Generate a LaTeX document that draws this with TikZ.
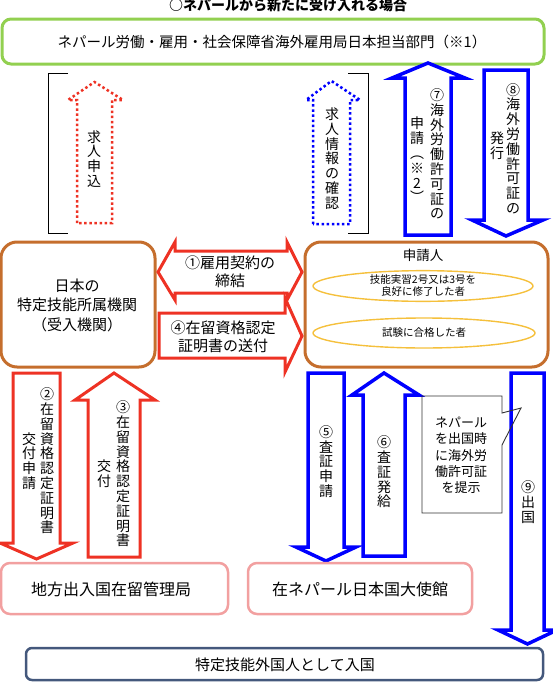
\documentclass[tikz,border=0pt]{standalone}
\usepackage{fontspec}
\usepackage{graphicx}
\setmainfont{Noto Sans CJK JP}
\definecolor{cgreen}{RGB}{146,208,80}
\definecolor{corange}{RGB}{197,110,45}
\definecolor{cred}{RGB}{238,50,36}
\definecolor{cblue}{RGB}{0,0,255}
\definecolor{cpink}{RGB}{242,160,160}
\definecolor{cgold}{RGB}{245,192,60}
\definecolor{cnavy}{RGB}{68,88,124}
\tikzset{
  vcol/.style={font=\fontsize{14}{14.8}\selectfont, align=center, inner sep=0pt},
  htxt/.style={font=\fontsize{15}{18}\selectfont, align=center, inner sep=0pt},
  obox/.style={draw=corange, line width=3pt, rounded corners=16pt},
  pbox/.style={draw=cpink, line width=2.5pt, rounded corners=9pt},
  redarrow/.style={draw=cred, line width=3pt, fill=white, line join=miter},
  bluearrow/.style={draw=cblue, line width=3.5pt, fill=white, line join=miter},
  reddot/.style={draw=cred, line width=2.5pt, dash pattern=on 2.5pt off 2.6pt},
  bluedot/.style={draw=cblue, line width=2.5pt, dash pattern=on 2.5pt off 2.6pt},
  bracket/.style={draw=black, line width=0.9pt},
  ell/.style={ellipse, draw=cgold, line width=1.4pt, align=center, inner sep=0pt, font=\fontsize{10.5}{12}\selectfont}
}
\usetikzlibrary{shapes.geometric}
\begin{document}
\begin{tikzpicture}[x=1pt,y=-1pt]
\useasboundingbox (0,0) rectangle (552,688);
% title
\node[font=\fontsize{14}{16}\bfseries\selectfont, inner sep=0pt] (title) at (288,5) {○ネパールから新たに受け入れる場合};
% top green box
\draw[draw=cgreen, line width=3pt, rounded corners=9pt] (2,19) rectangle (544,64);
\node[font=\fontsize{14.5}{17}\selectfont, inner sep=0pt] (nepal) at (272,42) {ネパール労働・雇用・社会保障省海外雇用局日本担当部門（※1）};
% brackets
\draw[bracket] (68,73) -- (48,73) -- (48,233) -- (68,233);
\draw[bracket] (348,73) -- (368,73) -- (368,233) -- (348,233);
% dotted arrows
\draw[reddot] (77,223) -- (77,100) -- (68,100) -- (94.5,82) -- (123,100) -- (112,100) -- (112,223) -- cycle;
\node[vcol] (kyujin) at (94,159) {求\\人\\申\\込};
\draw[bluedot] (313,224) -- (313,100) -- (306,100) -- (331.5,81) -- (360,100) -- (350,100) -- (350,224) -- cycle;
\node[vcol] (kakunin) at (332,158.5) {求\\人\\情\\報\\の\\確\\認};
% 7 up
\path[bluearrow] (405,235) -- (405,78) -- (392,78) -- (428,63) -- (465,78) -- (451,78) -- (451,235) -- cycle;
\node[vcol] (s7a) at (437,154) {⑦\\海\\外\\労\\働\\許\\可\\証\\の};
\node[vcol] (s7b) at (417,160) {申\\請\\︵\\※\\2\\︶};
% 8 down
\path[bluearrow] (484,70) -- (484,220) -- (472,220) -- (506,236) -- (543,220) -- (528,220) -- (528,70) -- cycle;
\node[vcol] (s8a) at (513,148.5) {⑧\\海\\外\\労\\働\\許\\可\\証\\の};
\node[vcol] (s8b) at (497,146) {発\\行};
% left orange box
\draw[obox] (1,242) rectangle (155,367);
\node[font=\fontsize{15}{19.5}\selectfont, align=center, inner sep=0pt] (kikan) at (77,305) {日本の\\特定技能所属機関\\（受入機関）};
% right orange box
\draw[obox] (305,242) rectangle (548,367);
\node[font=\fontsize{13.5}{16}\selectfont, inner sep=0pt] (shinsei) at (423,255) {申請人};
\node[ell, minimum width=220pt, minimum height=28pt] (e1) at (423,286) {技能実習2号又は3号を\\良好に修了した者};
\node[ell, minimum width=222pt, minimum height=30pt] (e2) at (424,333) {試験に合格した者};
% 1 double arrow
\path[redarrow] (158,272) -- (175,242) -- (175,251) -- (287,251) -- (287,242) -- (302,272) -- (287,300) -- (287,293) -- (175,293) -- (175,300) -- cycle;
\node[htxt] (s1) at (230,272) {①雇用契約の\\締結};
% 4 right arrow
\path[redarrow] (159,313) -- (285,313) -- (285,298) -- (302,336) -- (285,372) -- (285,358) -- (159,358) -- cycle;
\node[htxt] (s4) at (223,337) {④在留資格認定\\証明書の送付};
% 2 down
\path[redarrow] (13,373) -- (13,543) -- (0,543) -- (36.5,559) -- (73,543) -- (60,543) -- (60,373) -- cycle;
\node[vcol] (s2a) at (47,461) {②\\在\\留\\資\\格\\認\\定\\証\\明\\書};
\node[vcol] (s2b) at (29,461) {交\\付\\申\\請};
% 3 up
\path[redarrow] (88,557) -- (88,400) -- (75,400) -- (114,373) -- (155,400) -- (140,400) -- (140,557) -- cycle;
\node[vcol] (s3a) at (123,474) {③\\在\\留\\資\\格\\認\\定\\証\\明\\書};
\node[vcol] (s3b) at (104,474) {交\\付};
% 5 down
\path[bluearrow] (308,373) -- (308,547) -- (296,547) -- (326,561) -- (356,547) -- (344,547) -- (344,373) -- cycle;
\node[vcol] (s5) at (326,461.5) {⑤\\査\\証\\申\\請};
% 6 up
\path[bluearrow] (363,556) -- (363,395) -- (352,395) -- (384,373) -- (419,395) -- (405,395) -- (405,556) -- cycle;
\node[vcol] (s6) at (384,472) {⑥\\査\\証\\発\\給};
% 9 down
\path[bluearrow] (511,373) -- (511,630) -- (498,630) -- (527.5,644) -- (557,630) -- (544,630) -- (544,373) -- cycle;
\node[vcol] (s9) at (528,502) {⑨\\出\\国};
% callout
\draw[black!80, line width=0.9pt, line join=miter] (422,396) -- (502,396) -- (502,413) -- (521,408) -- (502,445) -- (502,513) -- (422,513) -- cycle;
\node[font=\fontsize{13}{16.3}\selectfont, align=center, inner sep=0pt] (callout) at (461,455.5) {ネパール\\を出国時\\に海外労\\働許可証\\を提示};
% pink boxes
\draw[pbox] (1,563) rectangle (228,614);
\node[font=\fontsize{16}{19}\selectfont, inner sep=0pt] (immig) at (111,589) {地方出入国在留管理局};
\draw[pbox] (248,563) rectangle (472,614);
\node[font=\fontsize{16}{19}\selectfont, inner sep=0pt] (embassy) at (360,589) {在ネパール日本国大使館};
% bottom box
\draw[draw=cnavy, line width=2.5pt, rounded corners=6pt] (26,648) rectangle (543,680);
\node[font=\fontsize{15}{18}\selectfont, inner sep=0pt] (entry) at (285,665) {特定技能外国人として入国};
\end{tikzpicture}
\end{document}
